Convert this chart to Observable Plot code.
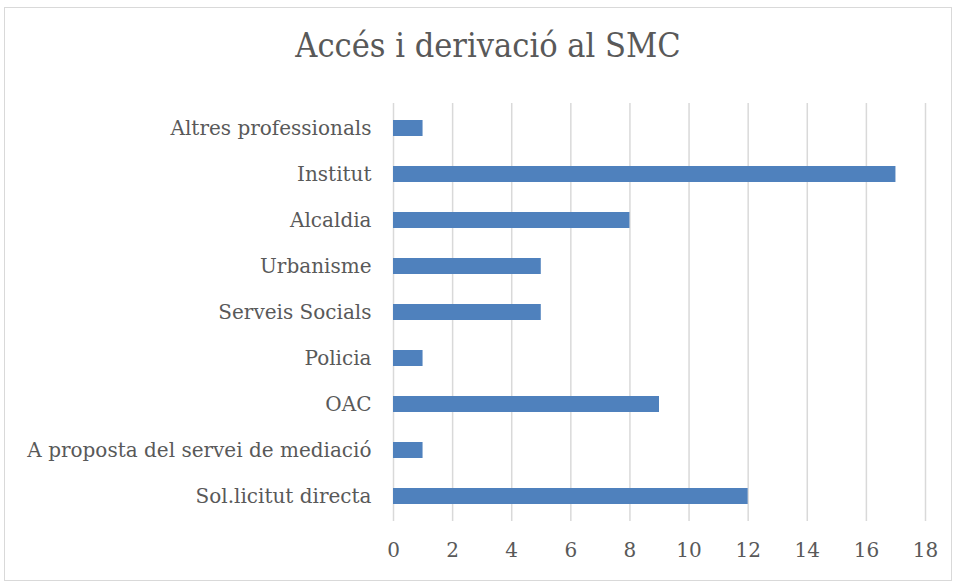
<!DOCTYPE html>
<html><head><meta charset="utf-8">
<script src="https://cdn.jsdelivr.net/npm/d3@7"></script>
<script src="https://cdn.jsdelivr.net/npm/@observablehq/plot@0.6"></script>
<style>
body{margin:0;background:#fff;width:956px;height:583px;position:relative;overflow:hidden;}
#frame{position:absolute;left:4px;top:7px;width:948px;height:574px;border:1px solid #d9d9d9;box-sizing:border-box;}
#title{position:absolute;left:0;top:25px;width:976px;text-align:center;font-family:"DejaVu Serif Condensed","DejaVu Serif",serif;font-size:34px;color:#595959;}
#chart{position:absolute;left:0;top:0;}
</style></head>
<body>
<div id="frame"></div>
<div id="title">Accés i derivació al SMC</div>
<div id="chart"></div>
<script>
const categories = ["Altres professionals","Institut","Alcaldia","Urbanisme","Serveis Socials","Policia","OAC","A proposta del servei de mediació","Sol.licitut directa"];
const values = [1,17,8,5,5,1,9,1,12];
const xTicks = [0,2,4,6,8,10,12,14,16,18];
const data = categories.map((c,i)=>({cat:c,value:values[i]}));
const chart = Plot.plot({
  width:956, height:583,
  marginLeft:393, marginRight:31, marginTop:103, marginBottom:62,
  style:{fontFamily:"'DejaVu Serif', serif", fontSize:"20px", color:"#595959", background:"transparent"},
  x:{domain:[0,18], ticks:xTicks, label:null, tickSize:0, tickPadding:21},
  y:{domain:categories, label:null, tickSize:0, tickPadding:22, paddingInner:0.655, paddingOuter:0.3275, align:0.5},
  marks:[
    Plot.gridX(xTicks,{stroke:"#d9d9d9", strokeOpacity:1, strokeWidth:1.5}),
    Plot.barX(data,{y:"cat", x:"value", fill:"#4f81bd"})
  ]
});
document.getElementById("chart").appendChild(chart);
</script>
</body></html>
